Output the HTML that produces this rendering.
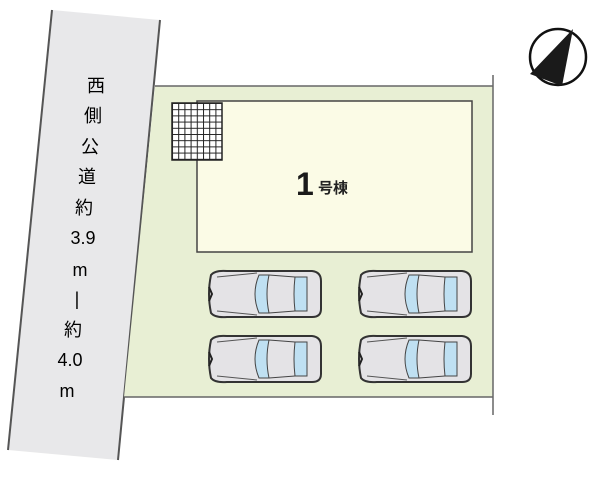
<!DOCTYPE html><html><head><style>body{margin:0;background:#fff;width:600px;height:478px;overflow:hidden;font-family:"Liberation Sans","Noto Sans CJK JP",sans-serif}</style></head><body>
<svg width="600" height="478" viewBox="0 0 600 478" xmlns="http://www.w3.org/2000/svg">
<defs>
<g id="car">
<path d="M4,6 Q8,1 20,2 L105,2 Q114,3 114,12 L114,40 Q114,48 105,48 L20,48 Q8,49 4,44 Q0,25 4,6 Z" fill="#e4e3e6" stroke="#333" stroke-width="2"/>
<path d="M10,8 L50,4 M10,42 L50,46" stroke="#555" stroke-width="1" fill="none"/>
<path d="M52,6 Q44,25 52,44 L62,44 Q58,25 62,6 Z" fill="#bfe0f2" stroke="#444" stroke-width="1"/>
<path d="M88,8 L100,8 L100,42 L88,42 Q86,25 88,8 Z" fill="#bfe0f2" stroke="#444" stroke-width="1"/>
<path d="M62,6 L88,8 M62,44 L88,42" stroke="#444" stroke-width="1"/>
<path d="M2,18 L5,25 L2,32" stroke="#222" stroke-width="2" fill="none"/>
</g>
<pattern id="grid" x="172" y="103" width="6.2" height="6.2" patternUnits="userSpaceOnUse"><rect width="6.2" height="6.2" fill="#fff"/><path d="M0,0H6.2M0,0V6.2" stroke="#222" stroke-width="2"/></pattern>
</defs>
<polygon points="52,10 160,20 118,460 8,450" fill="#e8e8ea"/>
<line x1="52" y1="10" x2="8" y2="450" stroke="#555" stroke-width="2"/>
<line x1="160" y1="20" x2="118" y2="460" stroke="#555" stroke-width="2"/>
<polygon points="155,86 493,86 493,397 124,397" fill="#e8efd4"/>
<line x1="155" y1="86" x2="493" y2="86" stroke="#666" stroke-width="1.5"/>
<line x1="124" y1="397" x2="493" y2="397" stroke="#666" stroke-width="1.5"/>
<line x1="493" y1="75" x2="493" y2="415" stroke="#666" stroke-width="1.5"/>
<rect x="197" y="101" width="275" height="151" fill="#fbfbe6" stroke="#444" stroke-width="1.5"/>
<rect x="172" y="103" width="50" height="57" fill="url(#grid)" stroke="#222" stroke-width="1.5"/>
<text x="296" y="195" font-size="32" font-weight="bold" fill="#1a1a1a">1</text>
<text x="318" y="193" font-size="15" font-weight="bold" fill="#222">号棟</text>
<use href="#car" x="207" y="269"/><use href="#car" x="357" y="269"/>
<use href="#car" x="207" y="334"/><use href="#car" x="357" y="334"/>
<g font-size="18" fill="#000" text-anchor="middle">
<text x="96" y="92">西</text><text x="93" y="122">側</text><text x="90" y="153">公</text><text x="87" y="183">道</text><text x="84" y="214">約</text>
<text x="83" y="244">3.9</text><text x="80" y="276">m</text><text x="77" y="305">|</text><text x="73" y="336">約</text>
<text x="70" y="366">4.0</text><text x="67" y="397">m</text></g>
<circle cx="558" cy="57" r="28" fill="#fff" stroke="#111" stroke-width="2.5"/>
<polygon points="573,29 530,74 562,86" fill="#1a1a1a"/>
</svg></body></html>
